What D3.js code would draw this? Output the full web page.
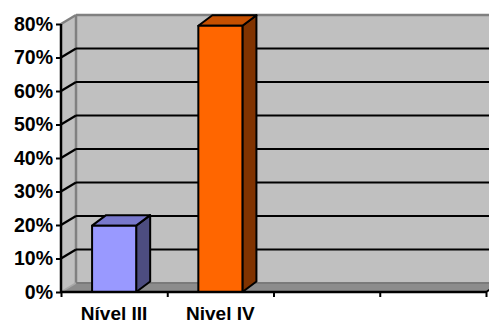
<!DOCTYPE html>
<html>
<head>
<meta charset="utf-8">
<script src="https://cdn.jsdelivr.net/npm/d3@7"></script>
<style>
  html, body { margin: 0; padding: 0; background: #ffffff; }
  svg { display: block; }
  text { font-family: "Liberation Sans", Arial, sans-serif; font-weight: bold; fill: #000; }
</style>
</head>
<body>
<svg id="chart" width="489" height="324"></svg>
<script>
// Category labels (the last two slots are empty)
const categories = ["Nível III", "Nivel IV", "", ""];
// Share per category, as fractions
const values = [0.198, 0.795, null, null];
// Value axis ticks
const yTicks = [0, 0.1, 0.2, 0.3, 0.4, 0.5, 0.6, 0.7, 0.8];
// Bar face colours: front, top, side
const barFront = ["#9999ff", "#ff6600", null, null];
const barTop = ["#7878cc", "#c65000", null, null];
const barSide = ["#4d4d80", "#803300", null, null];

const svg = d3.select("#chart");

const plotLeft = 61, plotRight = 486, plotTop = 24, plotBottom = 292;
const wdx = 15, wdy = 9;        // wall depth offset
const bdx = 14, bdy = 10.5;     // bar depth offset

const y = d3.scaleLinear().domain([0, 0.8]).range([plotBottom, plotTop]);
const x = d3.scaleBand().domain(d3.range(categories.length)).range([plotLeft, plotRight]).padding(0);
const xEdge = d3.scaleLinear().domain([0, categories.length]).range([plotLeft, plotRight]);

const wallFill = "#c0c0c0", wallEdge = "#808080", floorFill = "#8c8c8c";

// Back wall
svg.append("polygon")
  .attr("points", [[plotLeft + wdx, plotTop - wdy], [plotRight + wdx, plotTop - wdy], [plotRight + wdx, plotBottom - wdy], [plotLeft + wdx, plotBottom - wdy]].join(" "))
  .attr("fill", wallFill);
// Side wall
svg.append("polygon")
  .attr("points", [[plotLeft, plotTop], [plotLeft + wdx, plotTop - wdy], [plotLeft + wdx, plotBottom - wdy], [plotLeft, plotBottom]].join(" "))
  .attr("fill", wallFill);
// Floor
svg.append("polygon")
  .attr("points", [[plotLeft, plotBottom], [plotRight, plotBottom], [plotRight + wdx, plotBottom - wdy], [plotLeft + wdx, plotBottom - wdy]].join(" "))
  .attr("fill", floorFill);

// Wall edges
svg.append("line").attr("x1", plotLeft + wdx).attr("y1", plotTop - wdy).attr("x2", plotRight + wdx).attr("y2", plotTop - wdy)
  .attr("stroke", wallEdge).attr("stroke-width", 2.5);
svg.append("line").attr("x1", plotLeft + wdx).attr("y1", plotTop - wdy).attr("x2", plotLeft + wdx).attr("y2", plotBottom - wdy)
  .attr("stroke", wallEdge).attr("stroke-width", 2.5);
svg.append("line").attr("x1", plotLeft).attr("y1", plotTop).attr("x2", plotLeft + wdx).attr("y2", plotTop - wdy)
  .attr("stroke", wallEdge).attr("stroke-width", 2.5);
svg.append("line").attr("x1", plotLeft + wdx).attr("y1", plotBottom - wdy).attr("x2", plotRight + wdx).attr("y2", plotBottom - wdy)
  .attr("stroke", "#7a7a7a").attr("stroke-width", 2);
svg.append("line").attr("x1", plotLeft).attr("y1", plotBottom).attr("x2", plotLeft + wdx).attr("y2", plotBottom - wdy)
  .attr("stroke", "#a8a8a8").attr("stroke-width", 1.5);

// Gridlines on side and back walls
const inner = yTicks.filter(v => v > 0 && v < 0.8);
const grid = svg.append("g").attr("stroke", "#000").attr("stroke-width", 2.2);
grid.selectAll(".gs").data(inner).join("line").attr("class", "gs")
  .attr("x1", plotLeft).attr("y1", d => y(d)).attr("x2", plotLeft + wdx).attr("y2", d => y(d) - wdy);
grid.selectAll(".gb").data(inner).join("line").attr("class", "gb")
  .attr("x1", plotLeft + wdx).attr("y1", d => y(d) - wdy).attr("x2", plotRight + wdx).attr("y2", d => y(d) - wdy);

// Bars
const barW = x.bandwidth() * 0.415;
const bars = svg.append("g").attr("stroke", "#000").attr("stroke-width", 2).attr("stroke-linejoin", "round");
values.forEach((v, i) => {
  if (v == null) return;
  const x0 = x(i) + (x.bandwidth() - barW) / 2, x1 = x0 + barW;
  const yt = y(v), yb = y(0);
  bars.append("polygon")
    .attr("points", [[x1, yt], [x1 + bdx, yt - bdy], [x1 + bdx, yb - bdy], [x1, yb]].join(" "))
    .attr("fill", barSide[i]);
  bars.append("polygon")
    .attr("points", [[x0, yt], [x0 + bdx, yt - bdy], [x1 + bdx, yt - bdy], [x1, yt]].join(" "))
    .attr("fill", barTop[i]);
  bars.append("rect")
    .attr("x", x0).attr("y", yt).attr("width", barW).attr("height", yb - yt)
    .attr("fill", barFront[i]);
});

// Value axis
const yAxis = svg.append("g").attr("transform", `translate(${plotLeft},0)`)
  .call(d3.axisLeft(y).tickValues(yTicks).tickFormat(d3.format(".0%")).tickSize(5).tickPadding(3));
yAxis.select(".domain").attr("stroke", "#000").attr("stroke-width", 2.5).attr("d", `M0,${plotTop}V${plotBottom}`);
yAxis.selectAll(".tick line").attr("stroke", "#000").attr("stroke-width", 2);
yAxis.selectAll("text").style("font-size", "19.5px").style("font-family", "'Liberation Sans', Arial, sans-serif")
  .style("font-weight", "bold").attr("fill", "#000");

// Category axis: ticks at category boundaries, labels at band centres
const xAxis = svg.append("g").attr("transform", `translate(0,${plotBottom})`)
  .call(d3.axisBottom(xEdge).tickValues(d3.range(categories.length + 1)).tickFormat("").tickSize(5));
xAxis.select(".domain").attr("stroke", "#000").attr("stroke-width", 2.5).attr("d", `M${plotLeft},0H${plotRight}`);
xAxis.selectAll(".tick line").attr("stroke", "#000").attr("stroke-width", 2);
// floor edge at the right end
svg.append("line").attr("x1", plotRight).attr("y1", plotBottom).attr("x2", plotRight + wdx).attr("y2", plotBottom - wdy)
  .attr("stroke", "#000").attr("stroke-width", 2);

svg.append("g").selectAll("text").data(categories).join("text")
  .attr("x", (d, i) => x(i) + x.bandwidth() / 2)
  .attr("y", 320)
  .attr("text-anchor", "middle")
  .style("font-size", "19px")
  .text(d => d);
</script>
</body>
</html>
